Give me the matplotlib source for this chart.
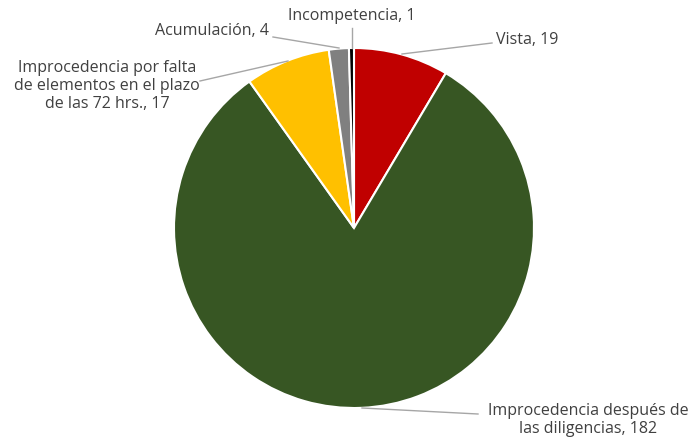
import matplotlib
matplotlib.use("Agg")
import matplotlib.pyplot as plt

plt.rcParams['font.family'] = ['Open Sans', 'DejaVu Sans']

categories = ["Vista", "Improcedencia después de\nlas diligencias",
              "Improcedencia por falta\nde elementos en el plazo\nde las 72 hrs.",
              "Acumulación", "Incompetencia"]
values = [19, 182, 17, 4, 1]
colors = ["#C00000", "#375623", "#FFC000", "#808080", "#000000"]

W, H = 691, 441
fig = plt.figure(figsize=(W/100, H/100), dpi=100)
ax = fig.add_axes([0, 0, 1, 1])

cx, cy, r = 354, H - 228, 180
ax.pie(values, colors=colors, startangle=90, counterclock=False,
       center=(cx, cy), radius=r,
       wedgeprops=dict(edgecolor="white", linewidth=1.5))
ax.set_xlim(0, W)
ax.set_ylim(0, H)
ax.set_aspect("equal")
ax.axis("off")

tc = "#404040"
lc = "#A6A6A6"
fs = 11.5

def Y(y):
    return H - y

labels = [
    (f"{categories[0]}, {values[0]}", 496, 40, "left", [(402, 54), (492, 43)]),
    (f"{categories[1]}, {values[1]}", 588, 420, "center", [(362, 408), (478, 414)]),
    (f"{categories[2]}, {values[2]}", 107, 86, "center", [(288, 61), (200, 81)]),
    (f"{categories[3]}, {values[3]}", 269, 31, "right", [(339, 48), (273, 37)]),
    (f"{categories[4]}, {values[4]}", 352, 16, "center", [(352, 48), (352, 28)]),
]
for text, tx, ty, ha, pts in labels:
    ax.plot([p[0] for p in pts], [Y(p[1]) for p in pts], color=lc, lw=1)
    ax.text(tx, Y(ty), text, ha=ha, va="center", fontsize=fs, color=tc,
            linespacing=1.15, multialignment="center")

fig.savefig("out.png", dpi=100)
